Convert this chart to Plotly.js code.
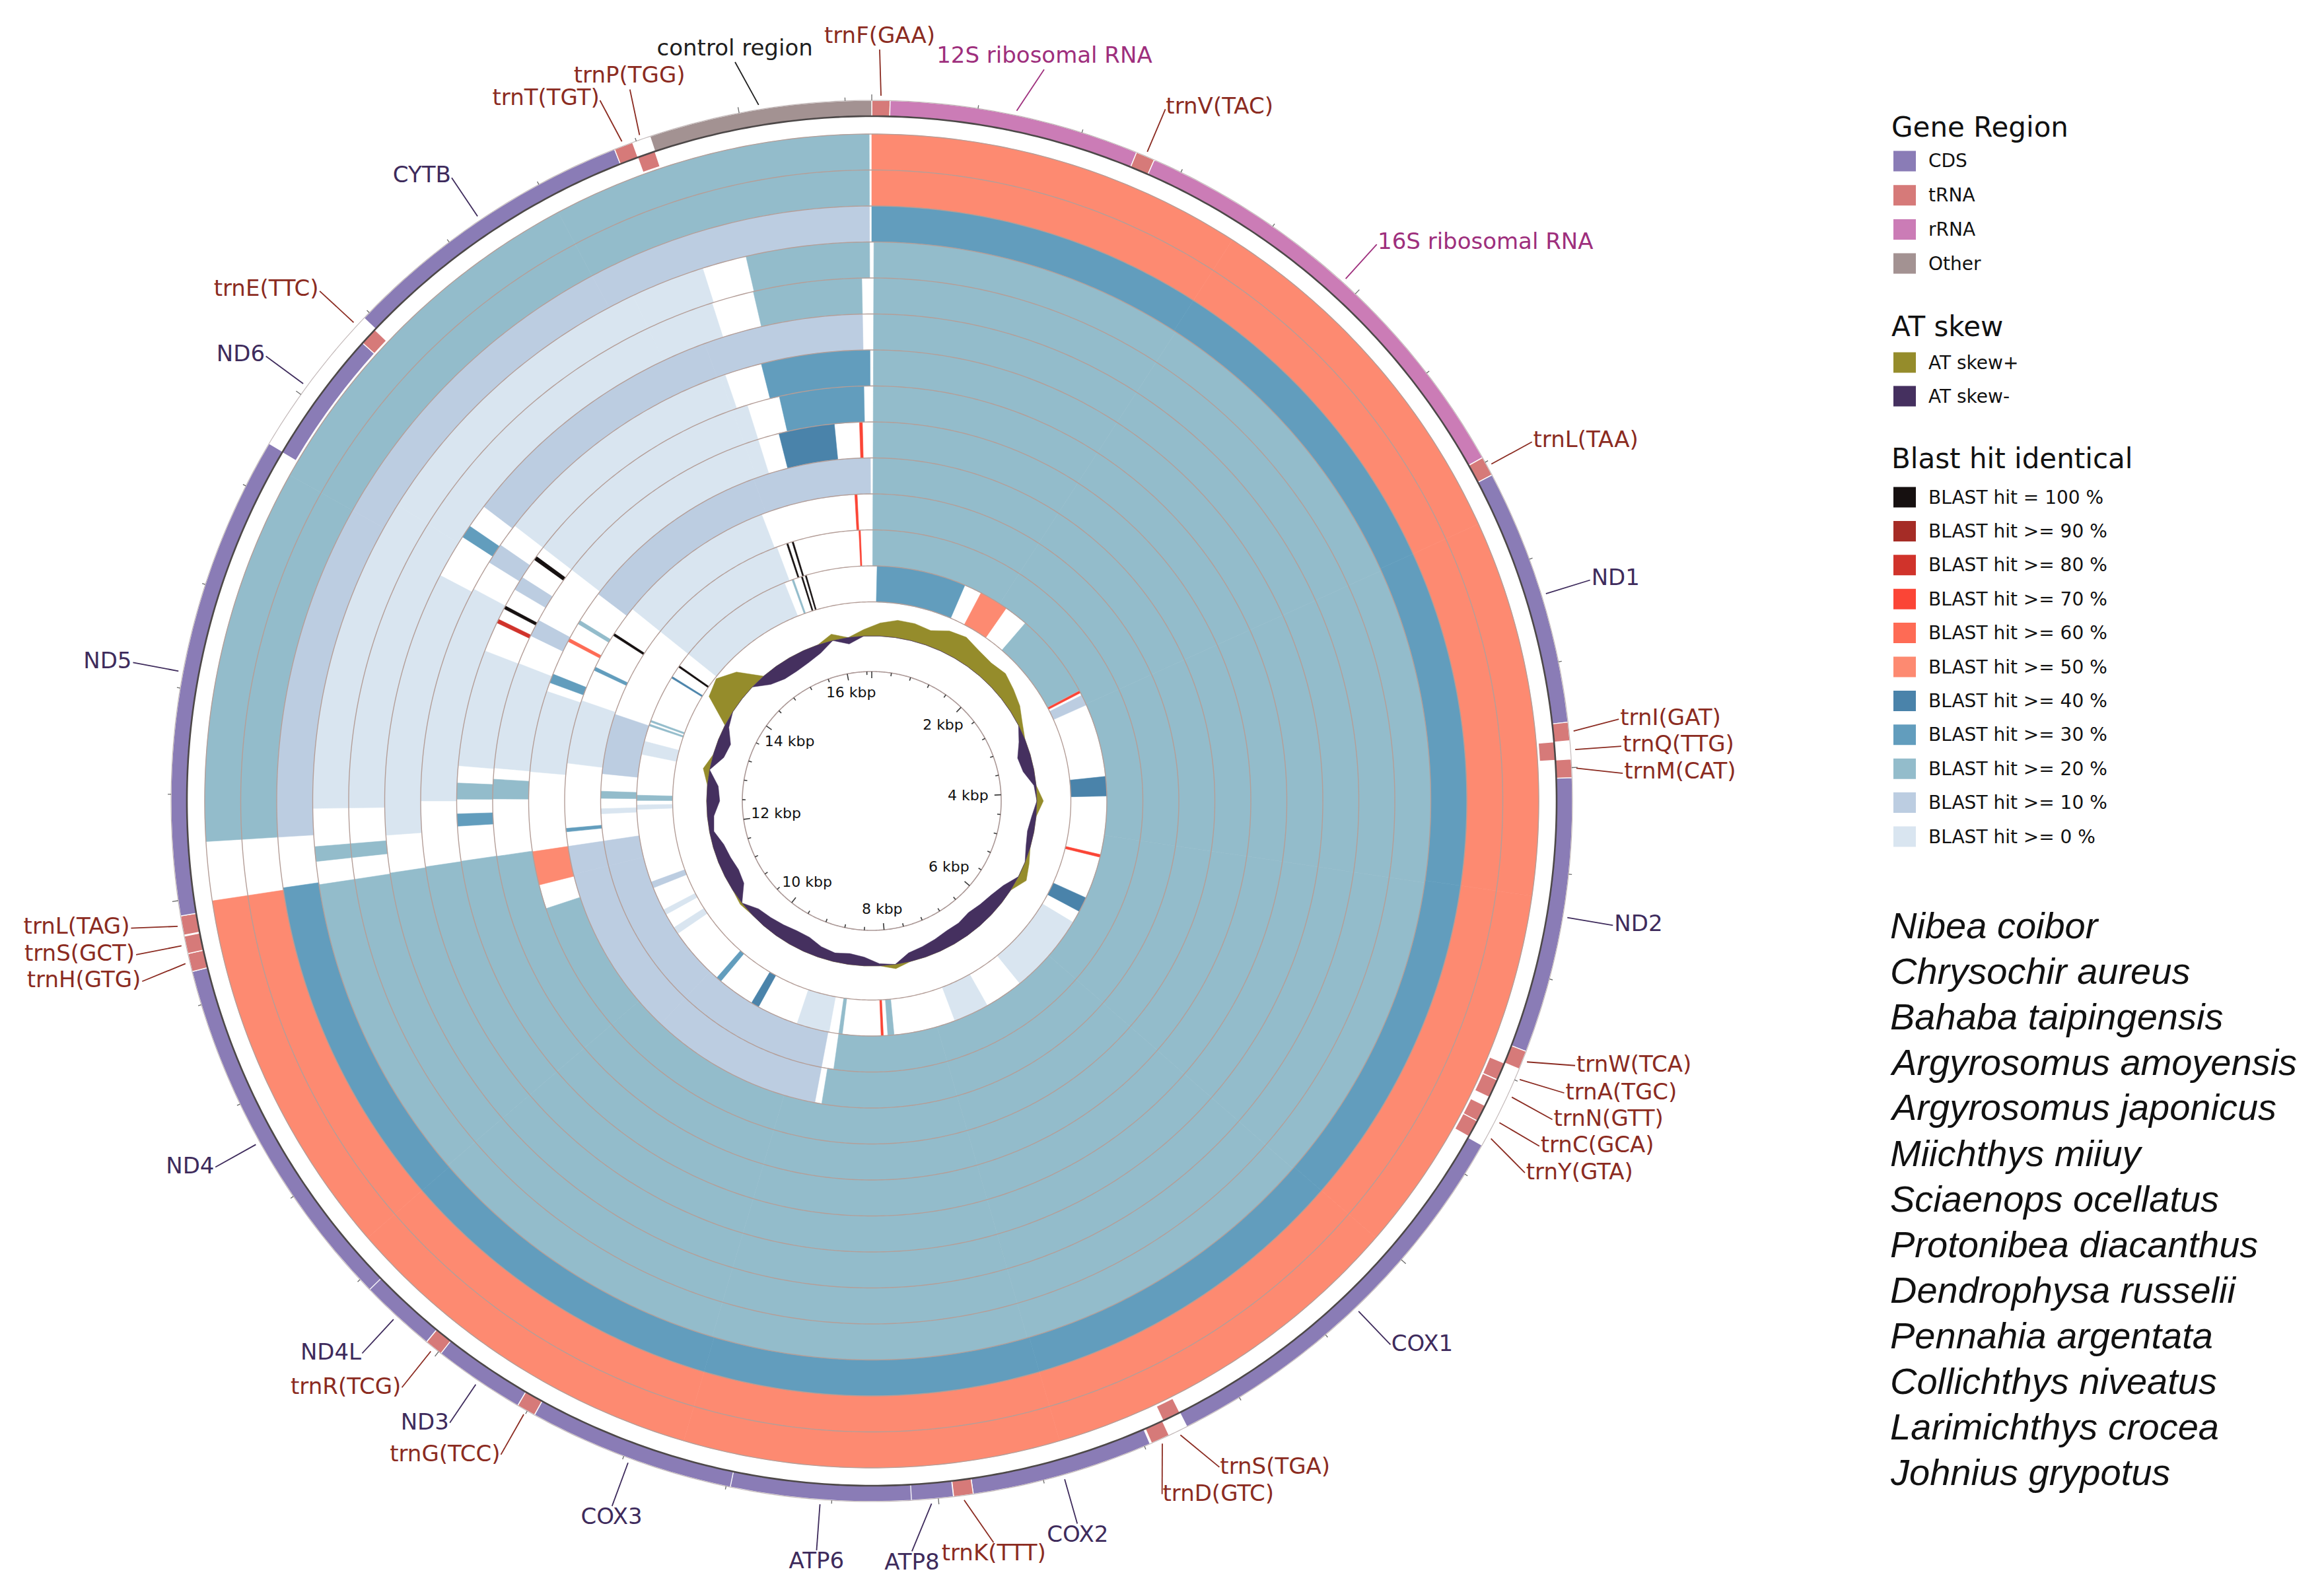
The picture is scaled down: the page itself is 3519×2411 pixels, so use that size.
<!DOCTYPE html>
<html>
<head>
<meta charset="utf-8">
<script src="https://cdn.plot.ly/plotly-3.0.1.min.js"></script>
<style>html,body{margin:0;padding:0;background:#ffffff;}</style>
</head>
<body>
<div id="chart" style="width:3519px;height:2411px;"></div>
<script>
// ---------------- DATA ----------------
const GENOME_LENGTH = 16500;

const geneNames = ['trnF(GAA)','12S ribosomal RNA','trnV(TAC)','16S ribosomal RNA','trnL(TAA)','ND1','trnI(GAT)','trnQ(TTG)','trnM(CAT)','ND2',
  'trnW(TCA)','trnA(TGC)','trnN(GTT)','trnC(GCA)','trnY(GTA)','COX1','trnS(TGA)','trnD(GTC)','COX2','trnK(TTT)',
  'ATP8','ATP6','COX3','trnG(TCC)','ND3','trnR(TCG)','ND4L','ND4','trnH(GTG)','trnS(GCT)',
  'trnL(TAG)','ND5','ND6','trnE(TTC)','CYTB','trnT(TGT)','trnP(TGG)','control region'];
const geneStart = [1,70,1019,1091,2781,2855,3830,3899,3969,4039,
  5086,5158,5228,5337,5403,5475,7026,7100,7178,7869,
  7944,8102,8785,9570,9642,9990,10059,10349,11730,11799,
  11870,11943,13778,14300,14373,15514,15585,15655];
const geneEnd = [69,1018,1090,2780,2854,3829,3899,3969,4038,5085,
  5156,5226,5300,5402,5470,7025,7096,7171,7868,7942,
  8111,8785,9569,9641,9990,10058,10355,11729,11798,11865,
  11942,13781,14299,14368,15513,15585,15654,16500];
const geneStrand = [1,1,1,1,1,1,1,-1,1,1,
  1,-1,-1,-1,-1,1,-1,1,1,1,
  1,1,1,1,1,1,1,1,1,1,
  1,1,-1,-1,1,1,-1,1];
const geneType = ['tRNA','rRNA','tRNA','rRNA','tRNA','CDS','tRNA','tRNA','tRNA','CDS',
  'tRNA','tRNA','tRNA','tRNA','tRNA','CDS','tRNA','tRNA','CDS','tRNA',
  'CDS','CDS','CDS','tRNA','CDS','tRNA','CDS','CDS','tRNA','tRNA',
  'tRNA','CDS','CDS','tRNA','CDS','tRNA','tRNA','Other'];

// BLAST hits per ring (outermost -> innermost): [start bp, end bp, identity class %]
const ring01Hits = [[0,11980,50],[12215,16490,20]];
const ring02Hits = [[0,11980,50],[12215,16490,20]];
const ring03Hits = [[0,11990,30],[12215,16490,10]];
const ring04Hits = [[10,11980,20],[12090,12160,20],[12340,15693,0],[15904,16490,20]];
const ring05Hits = [[10,11980,20],[12090,12160,20],[12340,15685,0],[15900,16450,20]];
const ring06Hits = [[10,11985,20],[12190,13640,0],[13880,13950,30],[14080,16450,10]];
const ring07Hits = [[10,11990,20],[12375,13660,0],[13840,13960,10],[14100,15630,0],[15850,16490,30]];
const ring08Hits = [[10,11992,20],[12215,12293,30],[12386,12489,20],[12599,13347,0],[13540,13565,80],[13640,13660,100],[13780,13870,10],[14005,14030,100],[14100,15700,0],[15910,16450,30]];
const ring09Hits = [[10,11990,20],[12389,12526,20],[12604,13350,0],[13560,13680,10],[14100,15700,0],[15850,16240,40],[16415,16435,70]];
const ring10Hits = [[10,11537,20],[11725,11985,50],[12600,13230,0],[13300,13370,30],[13645,13670,60],[13800,13830,20],[14076,16490,10]];
const ring11Hits = [[10,8680,20],[8740,11985,10],[12110,12140,30],[12700,13250,0],[13530,13560,30],[13870,13890,100],[14150,15537,0],[16355,16375,70]];
const ring12Hits = [[10,8620,20],[8740,11985,10],[12250,12300,0],[12400,12470,20],[12640,13230,10],[14150,15560,0],[15660,15675,100],[15715,15730,100],[16375,16390,70]];
const ring13Hits = [[60,1070,30],[1270,1600,50],[1870,2840,20],[2845,2870,70],[2900,3020,10],[3850,4070,40],[4730,4760,70],[5240,5410,40],[5550,6460,0],[6900,7300,0],[8000,8070,20],[8120,8145,70],[8580,8620,20],[8730,9100,0],[9570,9660,40],[10080,10140,30],[10800,10880,0],[11050,11110,0],[11380,11450,10],[12280,12330,0],[12380,12440,20],[12900,13050,0],[13230,13250,20],[13275,13295,20],[13820,13840,40],[13965,13985,100],[14150,15500,0],[15590,15610,20],[15700,15715,100],[15745,15760,100]];

// AT skew, one value per 250-bp window starting at 0
const AT_SKEW_WINDOW = 250;
const atSkewValues = [0.06,0.08,0.08,0.07,0.10,0.11,0.09,0.08,0.09,0.07,
  0.05,0.02,-0.03,-0.06,-0.05,-0.01,0.03,-0.02,-0.03,-0.02,
  0.02,0.04,-0.04,-0.06,-0.07,-0.08,-0.07,-0.07,-0.06,-0.05,
  -0.04,0.02,-0.01,-0.04,-0.05,-0.04,-0.05,-0.07,-0.07,-0.06,
  -0.05,-0.04,0.01,-0.06,-0.07,-0.06,-0.05,-0.02,-0.03,-0.06,
  -0.05,0.03,-0.05,-0.06,-0.02,0.13,0.15,0.10,-0.05,-0.07,
  -0.07,-0.06,-0.04,0.03,-0.03,0.03];

const axisTickLabels = ['2 kbp','4 kbp','6 kbp','8 kbp','10 kbp','12 kbp','14 kbp','16 kbp'];
const axisTickValues = [2000,4000,6000,8000,10000,12000,14000,16000];

const speciesNames = ['Nibea coibor','Chrysochir aureus','Bahaba taipingensis','Argyrosomus amoyensis','Argyrosomus japonicus',
  'Miichthys miiuy','Sciaenops ocellatus','Protonibea diacanthus','Dendrophysa russelii','Pennahia argentata',
  'Collichthys niveatus','Larimichthys crocea','Johnius grypotus'];

const geneLegendLabels = ['CDS','tRNA','rRNA','Other'];
const atLegendLabels = ['AT skew+','AT skew-'];
const blastLegendClasses = [100,90,80,70,60,50,40,30,20,10,0];
const blastLegendLabels = ['BLAST hit = 100 %','BLAST hit >= 90 %','BLAST hit >= 80 %','BLAST hit >= 70 %','BLAST hit >= 60 %',
  'BLAST hit >= 50 %','BLAST hit >= 40 %','BLAST hit >= 30 %','BLAST hit >= 20 %','BLAST hit >= 10 %','BLAST hit >= 0 %'];

// ---------------- STYLE ----------------
const W = 3519, H = 2411;
const CX = 1320, CY = 1213, RPX = 1198;
const FONT = 'DejaVu Sans, Verdana, sans-serif';
const geneColor = {CDS:'#8a7cb6', tRNA:'#d67a79', rRNA:'#cb7cb6', Other:'#a39292'};
const geneLabelColor = {CDS:'#3e2b5c', tRNA:'#8b2b21', rRNA:'#9e2f7d', Other:'#1e1e1e'};
const identityColor = {100:'#161010',90:'#a52c26',80:'#d0332b',70:'#fb4536',60:'#fe6b55',50:'#fd8a71',
  40:'#4a83aa',30:'#629dbd',20:'#93bccb',10:'#bccde1',0:'#d9e5f0'};
const AT_POS = '#958c2b', AT_NEG = '#45305f';
const SEP_COLOR = '#b49e98';

const RING_OUTER = 1010, RING_W = 54.5;
const FWD_BASE = 1037, REV_BASE = 1013, TRACK_W = 24;
const AT_R0 = 250, AT_SCALE = 330;
const AXIS_R = 196;
const LAB_R0 = 1068, LAB_R1 = 1138, LAB_FONT = 34, LAB_H = 40, LAB_PAD = 4;

const deg = bp => bp / GENOME_LENGTH * 360;
const traces = [];

// ---------------- BLAST RINGS ----------------
const blastRings = [ring01Hits,ring02Hits,ring03Hits,ring04Hits,ring05Hits,ring06Hits,ring07Hits,
  ring08Hits,ring09Hits,ring10Hits,ring11Hits,ring12Hits,ring13Hits];
blastRings.forEach((hits, k) => {
  const outer = RING_OUTER - k * RING_W, inner = outer - RING_W;
  const th = [], wd = [], col = [];
  hits.forEach(([s, e, p]) => {
    let a = s;
    while (a < e) {
      const b = Math.min(e, a + 1500);
      th.push(deg((a + b) / 2)); wd.push(deg(b - a)); col.push(identityColor[p]);
      a = b;
    }
  });
  traces.push({type:'barpolar', theta:th, width:wd, r:th.map(()=>RING_W), base:th.map(()=>inner),
    marker:{color:col, line:{color:col, width:0.6}}, hoverinfo:'skip'});
});

function circle(r, color, width) {
  const th = [], rr = [];
  for (let t = 0; t <= 360; t += 0.5) { th.push(t); rr.push(r); }
  return {type:'scatterpolar', mode:'lines', theta:th, r:rr, line:{color:color, width:width}, hoverinfo:'skip'};
}
for (let k = 0; k <= blastRings.length; k++) traces.push(circle(RING_OUTER - k * RING_W, SEP_COLOR, 1.4));

// ---------------- AT SKEW ----------------
const atTheta = atSkewValues.map((v, i) => deg(i * AT_SKEW_WINDOW + AT_SKEW_WINDOW / 2));
const thLoop = atTheta.concat([atTheta[0] + 360]);
const vLoop = atSkewValues.concat([atSkewValues[0]]);
const thBack = thLoop.slice().reverse();
traces.push({type:'scatterpolar', mode:'lines', fill:'toself', fillcolor:AT_POS, line:{color:AT_POS, width:0.5},
  theta: thLoop.concat(thBack), r: vLoop.map(v => AT_R0 + Math.max(v, 0) * AT_SCALE).concat(thBack.map(() => AT_R0)), hoverinfo:'skip'});
traces.push({type:'scatterpolar', mode:'lines', fill:'toself', fillcolor:AT_NEG, line:{color:AT_NEG, width:0.5},
  theta: thLoop.concat(thBack), r: thLoop.map(() => AT_R0).concat(vLoop.slice().reverse().map(v => AT_R0 + Math.min(v, 0) * AT_SCALE)), hoverinfo:'skip'});

// ---------------- INNER AXIS ----------------
traces.push(circle(AXIS_R, '#ab9896', 1.6));
(function(){
  const th = [], rr = [];
  for (let bp = 0; bp < GENOME_LENGTH; bp += 400) {
    const major = bp % 2000 === 0;
    th.push(deg(bp), deg(bp), null); rr.push(AXIS_R, AXIS_R - (major ? 10 : 5), null);
  }
  traces.push({type:'scatterpolar', mode:'lines', theta:th, r:rr, line:{color:'#3a3a3a', width:1.6}, hoverinfo:'skip', connectgaps:false});
})();
traces.push({type:'scatterpolar', mode:'text', cliponaxis:false, hoverinfo:'skip',
  theta: axisTickValues.map(deg),
  r: axisTickValues.map(v => { const s = Math.sin(deg(v) * Math.PI / 180); return 166 - 20 * s * s; }),
  text: axisTickLabels, textposition:'middle center', textfont:{family:FONT, size:22, color:'#111111'}});

// ---------------- GENE TRACK ----------------
const gTheta = geneStart.map((s, i) => deg((s - 1 + geneEnd[i]) / 2));
const gWidth = geneStart.map((s, i) => deg(geneEnd[i] - s + 1));
const gCol = geneType.map(t => geneColor[t]);
traces.push({type:'barpolar', theta:gTheta, width:gWidth, r:gTheta.map(()=>TRACK_W),
  base: geneStrand.map(s => s > 0 ? FWD_BASE : REV_BASE),
  marker:{color:gCol, line:{color:'rgba(255,255,255,0.95)', width:1.4}}, hoverinfo:'skip'});
traces.push(circle(FWD_BASE + TRACK_W, '#c4baba', 1.2));
traces.push(circle(FWD_BASE, '#4d4848', 2.6));
(function(){
  const th = [], rr = [];
  for (let bp = 0; bp < GENOME_LENGTH; bp += 400) {
    const major = bp % 2000 === 0;
    th.push(deg(bp), deg(bp), null); rr.push(FWD_BASE + TRACK_W, FWD_BASE + TRACK_W + (major ? 9 : 5), null);
  }
  traces.push({type:'scatterpolar', mode:'lines', theta:th, r:rr, line:{color:'#6a6a6a', width:1.3}, hoverinfo:'skip', connectgaps:false});
})();

// ---------------- GENE LABELS ----------------
function sideOf(a) {
  a = ((a % 360) + 360) % 360;
  if (a >= 340 || a < 20) return 'top';
  if (a < 158) return 'right';
  if (a < 205) return 'bottom';
  return 'left';
}
const labels = geneNames.map((n, i) => ({i, name:n, gene:gTheta[i], lab:gTheta[i], side:sideOf(gTheta[i]), w:n.length * 0.56 * LAB_FONT}));
labels.sort((a, b) => a.gene - b.gene);
function bbox(l) {
  const t = l.lab * Math.PI / 180;
  const x = CX + (LAB_R1 + 2) * Math.sin(t), y = CY - (LAB_R1 + 2) * Math.cos(t);
  const w = l.w, h = LAB_H;
  if (l.side === 'right') return [x + LAB_PAD, x + LAB_PAD + w, y - h / 2, y + h / 2];
  if (l.side === 'left') return [x - LAB_PAD - w, x - LAB_PAD, y - h / 2, y + h / 2];
  if (l.side === 'top') return [x - w / 2, x + w / 2, y - LAB_PAD - h, y - LAB_PAD];
  return [x - w / 2, x + w / 2, y + LAB_PAD, y + LAB_PAD + h];
}
function overlap(a, b) {
  const A = bbox(a), B = bbox(b);
  return A[0] < B[1] && B[0] < A[1] && A[2] < B[3] && B[2] < A[3];
}
for (let it = 0; it < 4000; it++) {
  let moved = false;
  for (let k = 0; k < labels.length; k++) {
    const a = labels[k], b = labels[(k + 1) % labels.length];
    if (overlap(a, b)) { a.lab -= 0.05; b.lab += 0.05; moved = true; }
  }
  if (!moved) break;
}
const posMap = {right:'middle right', left:'middle left', top:'top center', bottom:'bottom center'};
['CDS','tRNA','rRNA','Other'].forEach(t => {
  const th = [], rr = [];
  labels.filter(l => geneType[l.i] === t).forEach(l => { th.push(l.gene, l.lab, null); rr.push(LAB_R0, LAB_R1, null); });
  traces.push({type:'scatterpolar', mode:'lines', theta:th, r:rr, connectgaps:false, cliponaxis:false,
    line:{color:geneLabelColor[t], width:1.8}, hoverinfo:'skip'});
});
traces.push({type:'scatterpolar', mode:'text', cliponaxis:false, hoverinfo:'skip',
  theta: labels.map(l => l.lab), r: labels.map(() => LAB_R1 + 2), text: labels.map(l => l.name),
  textposition: labels.map(l => posMap[l.side]),
  textfont:{family:FONT, size:LAB_FONT, color: labels.map(l => geneLabelColor[geneType[l.i]])}});

// ---------------- LEGEND & SPECIES (layout) ----------------
const px = x => x / W, py = y => 1 - y / H;
const shapes = [], annotations = [];
function title(text, y) {
  annotations.push({xref:'paper', yref:'paper', x:px(2862), y:py(y), xanchor:'left', yanchor:'middle', showarrow:false,
    text:text, font:{family:FONT, size:42, color:'#111111'}});
}
function item(text, color, y) {
  shapes.push({type:'rect', xref:'paper', yref:'paper', x0:px(2867), x1:px(2901), y0:py(y + 15.5), y1:py(y - 15.5),
    fillcolor:color, line:{width:0}});
  annotations.push({xref:'paper', yref:'paper', x:px(2918), y:py(y), xanchor:'left', yanchor:'middle', showarrow:false,
    text:text, font:{family:FONT, size:28, color:'#111111'}});
}
title('Gene Region', 193);
geneLegendLabels.forEach((t, i) => item(t, geneColor[t], 244 + i * 51.7));
title('AT skew', 495);
item(atLegendLabels[0], AT_POS, 549);
item(atLegendLabels[1], AT_NEG, 600);
title('Blast hit identical', 695);
blastLegendLabels.forEach((t, i) => item(t, identityColor[blastLegendClasses[i]], 753 + i * 51.4));
speciesNames.forEach((s, i) => {
  annotations.push({xref:'paper', yref:'paper', x:px(2860), y:py(1401 + i * 69.0), xanchor:'left', yanchor:'middle', showarrow:false,
    text:'<i>' + s + '</i>', font:{family:'Liberation Sans, Arial, sans-serif', size:56, color:'#111111', style:'italic'}});
});

const layout = {
  width:W, height:H, margin:{l:0, r:0, t:0, b:0}, paper_bgcolor:'#ffffff', plot_bgcolor:'#ffffff', showlegend:false,
  polar:{
    domain:{x:[(CX - RPX) / W, (CX + RPX) / W], y:[(H - CY - RPX) / H, (H - CY + RPX) / H]},
    bgcolor:'rgba(0,0,0,0)', barmode:'overlay', bargap:0,
    radialaxis:{visible:false, range:[0, RPX], showgrid:false, showline:false, showticklabels:false, ticks:''},
    angularaxis:{visible:false, rotation:90, direction:'clockwise', showgrid:false, showline:false, showticklabels:false, ticks:''}
  },
  shapes:shapes, annotations:annotations
};
Plotly.newPlot('chart', traces, layout, {staticPlot:true, displayModeBar:false});
</script>
</body>
</html>
